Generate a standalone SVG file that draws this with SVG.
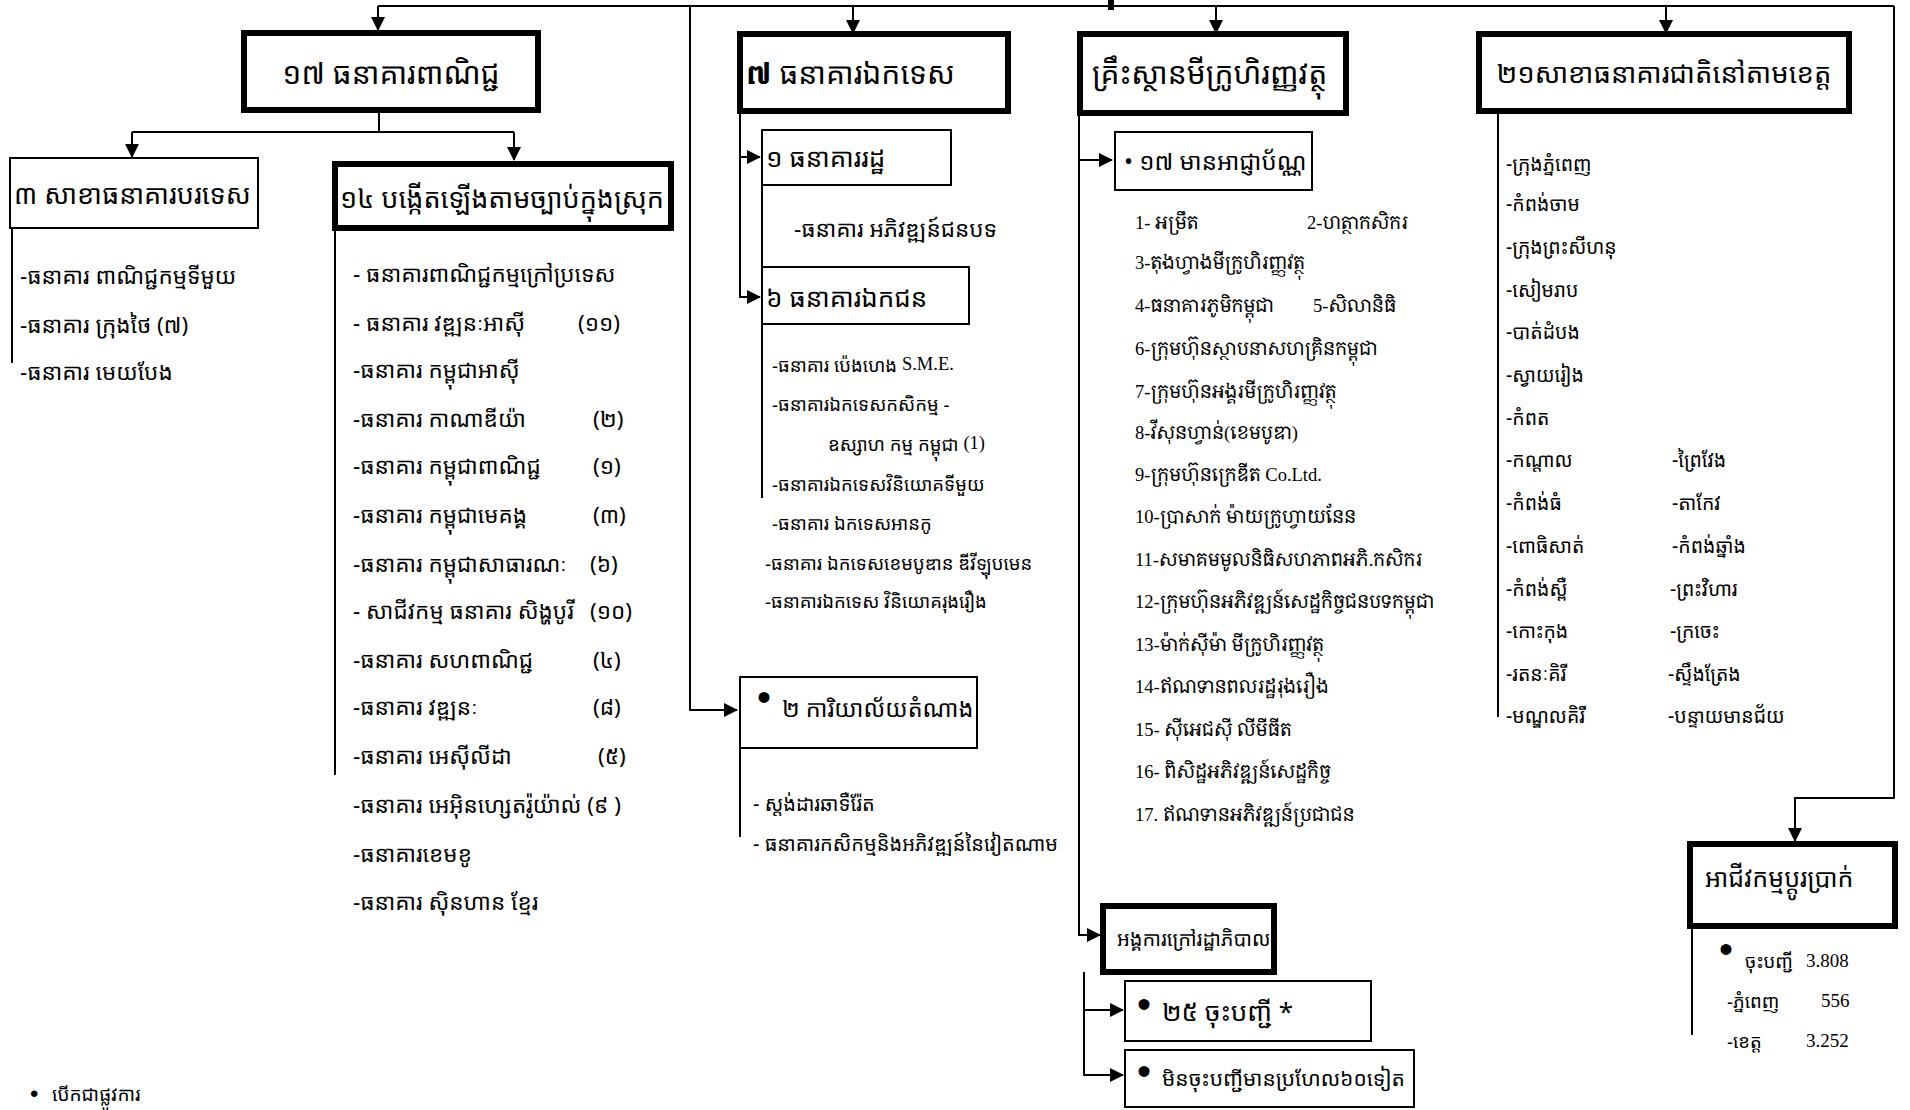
<svg xmlns="http://www.w3.org/2000/svg" width="1910" height="1110" viewBox="0 0 1910 1110">
<style>
text{font-family:"Noto Sans Khmer","Noto Serif Khmer","Khmer OS","Khmer OS System","DejaVu Sans",sans-serif;fill:#000;dominant-baseline:central}
.h{font-size:30px}
.h2{font-size:27px}
.hs{font-size:26px}
.l{font-size:22.5px}
.s{font-size:18.5px}
.g{font-size:20px}
.m{font-size:19.5px}
.ser{font-family:"Liberation Serif","Noto Serif Khmer","Noto Sans Khmer",serif}
text.bul{font-family:"Liberation Sans",sans-serif;font-size:40px;dominant-baseline:auto}
.thick{fill:#fff;stroke:#000;stroke-width:6}
.thin{fill:#fff;stroke:#000;stroke-width:2}
.c{fill:none;stroke:#000;stroke-width:2}
</style>
<defs>
<marker id="ar" markerWidth="14" markerHeight="14" refX="13" refY="7" orient="auto" markerUnits="userSpaceOnUse">
<path d="M0,0 L14,7 L0,14 z" fill="#000"/>
</marker>
</defs>
<rect width="1910" height="1110" fill="#fff"/>

<g id="connectors">
<rect x="1108" y="0" width="6" height="10" fill="#000"/>
<path class="c" d="M378,6 H1894"/>
<path class="c" d="M378,6 V30" marker-end="url(#ar)"/>
<path class="c" d="M853,6 V33" marker-end="url(#ar)"/>
<path class="c" d="M1216,6 V33" marker-end="url(#ar)"/>
<path class="c" d="M1666,6 V33" marker-end="url(#ar)"/>
<path class="c" d="M690,6 V710 H737" marker-end="url(#ar)"/>
<path class="c" d="M1894,6 V798 H1795 V841" marker-end="url(#ar)"/>
<path class="c" d="M379,110 V132"/>
<path class="c" d="M132,132 H514"/>
<path class="c" d="M132,132 V157" marker-end="url(#ar)"/>
<path class="c" d="M514,132 V160" marker-end="url(#ar)"/>
<path class="c" d="M12,228 V363"/>
<path class="c" d="M335,228 V775"/>
<path class="c" d="M740,112 V297 H760" marker-end="url(#ar)"/>
<path class="c" d="M740,157 H760" marker-end="url(#ar)"/>
<path class="c" d="M762,185 V266"/>
<path class="c" d="M762,324 V498"/>
<path class="c" d="M740,748 V837"/>
<path class="c" d="M1079,114 V935 H1100" marker-end="url(#ar)"/>
<path class="c" d="M1079,160 H1112" marker-end="url(#ar)"/>
<path class="c" d="M1084,972 V1075 H1123" marker-end="url(#ar)"/>
<path class="c" d="M1084,1010 H1123" marker-end="url(#ar)"/>
<path class="c" d="M1498,112 V717"/>
<path class="c" d="M1692,926 V1035"/>
</g>

<g id="n-commercial">
<rect class="thick" x="244" y="33" width="294" height="77"/>
<text class="h" x="391" y="72" text-anchor="middle">១៧ ធនាគារពាណិជ្ជ</text>
</g>
<g id="n-foreign-branches">
<rect class="thin" x="10" y="158" width="248" height="70"/>
<text class="h2" x="14" y="193">៣ សាខាធនាគារបរទេស</text>
<text class="l" x="20" y="275">-ធនាគារ ពាណិជ្ជកម្មទីមួយ</text>
<text class="l" x="20" y="324">-ធនាគារ  ក្រុងថៃ (៧)</text>
<text class="l" x="20" y="371">-ធនាគារ មេយបែង</text>
</g>
<g id="n-local">
<rect class="thick" x="335" y="164" width="336" height="64"/>
<text class="h2" x="340" y="197">១៤ បង្កើតឡើងតាមច្បាប់ក្នុងស្រុក</text>
<text class="l" x="353" y="273">- ធនាគារពាណិជ្ជកម្មក្រៅប្រទេស</text>
<text class="l" x="353" y="322">- ធនាគារ វឌ្ឍនៈអាស៊ី</text><text class="l" x="578" y="322">(១១)</text>
<text class="l" x="353" y="369">-ធនាគារ កម្ពុជាអាស៊ី</text>
<text class="l" x="353" y="418">-ធនាគារ កាណាឌីយ៉ា</text><text class="l" x="593" y="418">(២)</text>
<text class="l" x="353" y="465">-ធនាគារ កម្ពុជាពាណិជ្ជ</text><text class="l" x="593" y="465">(១)</text>
<text class="l" x="353" y="514">-ធនាគារ កម្ពុជាមេគង្គ</text><text class="l" x="593" y="514">(៣)</text>
<text class="l" x="353" y="563">-ធនាគារ កម្ពុជាសាធារណៈ</text><text class="l" x="590" y="563">(៦)</text>
<text class="l" x="353" y="610">- សាជីវកម្ម ធនាគារ សិង្ហបូរី</text><text class="l" x="590" y="610">(១០)</text>
<text class="l" x="353" y="659">-ធនាគារ សហពាណិជ្ជ</text><text class="l" x="593" y="659">(៤)</text>
<text class="l" x="353" y="706">-ធនាគារ វឌ្ឍនៈ</text><text class="l" x="593" y="706">(៨)</text>
<text class="l" x="353" y="755">-ធនាគារ អេស៊ីលីដា</text><text class="l" x="598" y="755">(៥)</text>
<text class="l" x="353" y="804">-ធនាគារ  អេអ៊ិនហ្សេតរ៉ូយ៉ាល់ (៩ )</text>
<text class="l" x="353" y="853">-ធនាគារខេមខូ</text>
<text class="l" x="353" y="901">-ធនាគារ ស៊ិនហាន ខ្មែរ</text>
</g>
<g id="n-specialized">
<rect class="thick" x="740" y="34" width="268" height="77"/>
<text class="h" x="746" y="72"><tspan font-weight="bold">៧</tspan> ធនាគារឯកទេស</text>
</g>
<g id="n-state-bank">
<rect class="thin" x="762" y="130" width="189" height="55"/>
<text class="hs" x="766" y="157">១ ធនាគាររដ្ឋ</text>
<text class="l" x="794" y="228">-ធនាគារ អភិវឌ្ឍន៍ជនបទ</text>
</g>
<g id="n-private-bank">
<rect class="thin" x="762" y="267" width="207" height="57"/>
<text class="hs" x="766" y="297">៦ ធនាគារឯកជន</text>
<text class="s" x="772" y="364">-ធនាគារ ប៉េងហេង  <tspan class="ser">S.M.E.</tspan></text>
<text class="s" x="772" y="403">-ធនាគារឯកទេសកសិកម្ម -</text>
<text class="s" x="828" y="443">ឧស្សាហ កម្ម កម្ពុជា   <tspan class="ser">(1)</tspan></text>
<text class="s" x="772" y="483">-ធនាគារឯកទេសវិនិយោគទីមួយ</text>
<text class="s" x="772" y="522">-ធនាគារ ឯកទេសអានកូ</text>
<text class="s" x="765" y="562">-ធនាគារ ឯកទេសខេមបូឌាន ឌីវីឡុបមេន</text>
<text class="s" x="765" y="600">-ធនាគារឯកទេស វិនិយោគរុងរឿង</text>
</g>
<g id="n-rep-office">
<rect class="thin" x="740" y="677" width="237" height="71"/>
<text class="bul" x="757" y="711">•</text>
<text x="782" y="708" style="font-size:23.5px">២ ការិយាល័យតំណាង</text>
<text class="g" x="753" y="803">- ស្តង់ដារឆាទឺរ៉ែត</text>
<text class="g" x="753" y="843">- ធនាគារកសិកម្មនិងអភិវឌ្ឍន៍នៃវៀតណាម</text>
</g>
<g id="n-microfinance">
<rect class="thick" x="1080" y="34" width="266" height="79"/>
<text class="h" x="1092" y="72">គ្រឹះស្ថានមីក្រូហិរញ្ញវត្ថុ</text>
</g>
<g id="n-licensed">
<rect class="thin" x="1115" y="132" width="197" height="58"/>
<text x="1124" y="160" style="font-size:24px">• ១៧ មានអាជ្ញាប័ណ្ណ</text>
<text class="s ser" x="1135" y="223">1- អម្រឹត</text>
<text class="s ser" x="1307" y="223">2-ហត្ថាកសិករ</text>
<text class="s ser" x="1135" y="263">3-តុងហ្វាងមីក្រូហិរញ្ញវត្ថុ</text>
<text class="s ser" x="1135" y="306">4-ធនាគារភូមិកម្ពុជា</text>
<text class="s ser" x="1313" y="306">5-សិលានិធិ</text>
<text class="s ser" x="1135" y="349">6-ក្រុមហ៊ុនស្ថាបនាសហគ្រិនកម្ពុជា</text>
<text class="s ser" x="1135" y="392">7-ក្រុមហ៊ុនអង្គរមីក្រូហិរញ្ញវត្ថុ</text>
<text class="s ser" x="1135" y="433">8-វីសុនហ្វាន់(ខេមបូឌា)</text>
<text class="s ser" x="1135" y="475">9-ក្រុមហ៊ុនក្រេឌីត Co.Ltd.</text>
<text class="s ser" x="1135" y="517">10-ប្រាសាក់ ម៉ាយក្រូហ្វាយនែន</text>
<text class="s ser" x="1135" y="560">11-សមាគមមូលនិធិសហភាពអភិ.កសិករ</text>
<text class="s ser" x="1135" y="602">12-ក្រុមហ៊ុនអភិវឌ្ឍន៍សេដ្ឋកិច្ចជនបទកម្ពុជា</text>
<text class="s ser" x="1135" y="645">13-ម៉ាក់ស៊ីម៉ា មីក្រូហិរញ្ញវត្ថុ</text>
<text class="s ser" x="1135" y="687">14-ឥណទានពលរដ្ឋរុងរឿង</text>
<text class="s ser" x="1135" y="730">15- ស៊ីអេជស៊ី លីមីធីត</text>
<text class="s ser" x="1135" y="772">16- ពិសិដ្ឋអភិវឌ្ឍន៍សេដ្ឋកិច្ច</text>
<text class="s ser" x="1135" y="815">17. ឥណទានអភិវឌ្ឍន៍ប្រជាជន</text>
</g>
<g id="n-ngo">
<rect class="thick" x="1103" y="906" width="171" height="66"/>
<text x="1117" y="938" style="font-size:20px">អង្គការក្រៅរដ្ឋាភិបាល</text>
</g>
<g id="n-registered">
<rect class="thin" x="1125" y="981" width="246" height="60"/>
<text class="bul" x="1137" y="1018">•</text>
<text class="hs" x="1162" y="1011">២៥ ចុះបញ្ជី *</text>
</g>
<g id="n-unregistered">
<rect class="thin" x="1125" y="1050" width="289" height="57"/>
<text class="bul" x="1137" y="1085">•</text>
<text x="1162" y="1078" style="font-size:21px">មិនចុះបញ្ជីមានប្រហែល៦០ទៀត</text>
</g>
<g id="n-provincial">
<rect class="thick" x="1479" y="34" width="370" height="77"/>
<text class="h" x="1664" y="72" text-anchor="middle" style="font-size:27.5px">២១សាខាធនាគារជាតិនៅតាមខេត្ត</text>
<text class="m" x="1506" y="163">-ក្រុងភ្នំពេញ</text>
<text class="m" x="1506" y="203">-កំពង់ចាម</text>
<text class="m" x="1506" y="246">-ក្រុងព្រះសីហនុ</text>
<text class="m" x="1506" y="289">-សៀមរាប</text>
<text class="m" x="1506" y="331">-បាត់ដំបង</text>
<text class="m" x="1506" y="374">-ស្វាយរៀង</text>
<text class="m" x="1506" y="417">-កំពត</text>
<text class="m" x="1506" y="459">-កណ្តាល</text>
<text class="m" x="1506" y="502">-កំពង់ធំ</text>
<text class="m" x="1506" y="545">-ពោធិសាត់</text>
<text class="m" x="1506" y="588">-កំពង់ស្ពឺ</text>
<text class="m" x="1506" y="630">-កោះកុង</text>
<text class="m" x="1506" y="673">-រតនៈគិរី</text>
<text class="m" x="1506" y="715">-មណ្ឌលគិរី</text>
<text class="m" x="1672" y="459">-ព្រៃវែង</text>
<text class="m" x="1672" y="502">-តាកែវ</text>
<text class="m" x="1672" y="545">-កំពង់ឆ្នាំង</text>
<text class="m" x="1670" y="588">-ព្រះវិហារ</text>
<text class="m" x="1670" y="630">-ក្រចេះ</text>
<text class="m" x="1668" y="673">-ស្ទឹងត្រែង</text>
<text class="m" x="1668" y="715">-បន្ទាយមានជ័យ</text>
</g>
<g id="n-exchange">
<rect class="thick" x="1690" y="844" width="205" height="82"/>
<text x="1705" y="877" style="font-size:25px">អាជីវកម្មប្តូរប្រាក់</text>
<text class="bul" x="1719" y="963">•</text>
<text class="s" x="1745" y="960">ចុះបញ្ជី</text><text class="ser" x="1806" y="960" style="font-size:19px">3.808</text>
<text class="s" x="1727" y="1000">-ភ្នំពេញ</text><text class="ser" x="1821" y="1000" style="font-size:19px">556</text>
<text class="s" x="1727" y="1040">-ខេត្ត</text><text class="ser" x="1806" y="1040" style="font-size:19px">3.252</text>
</g>
<g id="n-footnote">
<text class="bul" x="30" y="1102" style="font-size:24px">•</text>
<text x="52" y="1094" style="font-size:19px">បើកជាផ្លូវការ</text>
</g>
</svg>
